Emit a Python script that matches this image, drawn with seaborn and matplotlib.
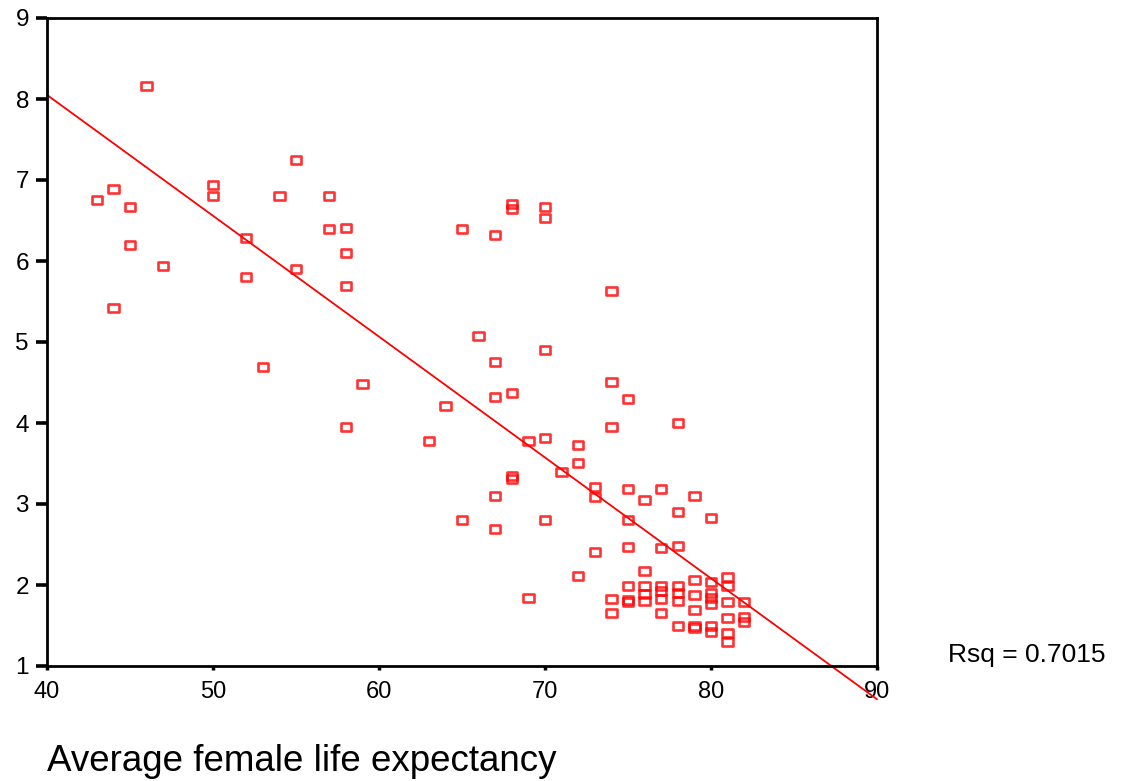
import numpy as np
import pandas as pd
import matplotlib
matplotlib.use("Agg")
import matplotlib.pyplot as plt
from matplotlib.path import Path
import seaborn as sns

life_expectancy = [
    46, 43, 44, 45, 45, 44, 47, 50, 50, 52, 52, 53, 54, 55, 55, 57, 57, 58, 58, 58, 58,
    59, 63, 64, 65, 65, 66, 67, 67, 67, 67, 67, 68, 68, 68, 68, 68, 69, 69,
    70, 70, 70, 70, 70, 71, 72, 72, 72, 73, 73, 73,
    74, 74, 74, 74, 74, 75, 75, 75, 75, 75, 75, 75,
    76, 76, 76, 76, 76, 77, 77, 77, 77, 77, 77,
    78, 78, 78, 78, 78, 78, 78, 79, 79, 79, 79, 79, 79,
    80, 80, 80, 80, 80, 80, 80, 81, 81, 81, 81, 81, 81, 82, 82, 82,
]
fertility = [
    8.16, 6.75, 6.89, 6.67, 6.20, 5.42, 5.94, 6.94, 6.80, 6.28, 5.80, 4.69, 6.80, 7.25, 5.90,
    6.80, 6.40, 6.41, 6.10, 5.69, 3.95,
    4.48, 3.78, 4.21, 6.40, 2.80, 5.07, 6.32, 4.75, 4.32, 3.10, 2.69, 6.70, 6.64, 4.37, 3.35, 3.31,
    3.78, 1.84,
    6.67, 6.53, 4.90, 3.81, 2.80, 3.40, 3.73, 3.51, 2.11, 3.21, 3.09, 2.41,
    5.63, 4.51, 3.95, 1.83, 1.65, 4.30, 3.19, 2.80, 2.47, 1.99, 1.81, 1.79,
    3.05, 2.17, 1.99, 1.89, 1.80, 3.19, 2.46, 1.99, 1.93, 1.83, 1.65,
    4.00, 2.90, 2.48, 1.99, 1.90, 1.80, 1.49, 3.10, 2.06, 1.88, 1.69, 1.49, 1.47,
    2.83, 2.04, 1.90, 1.84, 1.77, 1.49, 1.42, 2.10, 1.99, 1.79, 1.59, 1.41, 1.30,
    1.79, 1.60, 1.54,
]
x_ticks = [40, 50, 60, 70, 80, 90]
y_ticks = [1, 2, 3, 4, 5, 6, 7, 8, 9]
rsq_label = "Rsq = 0.7015"
x_label = "Average female life expectancy"

df = pd.DataFrame({"life": life_expectancy, "fert": fertility})

sns.set_style("white")
plt.rcParams["font.family"] = ["Liberation Sans", "DejaVu Sans"]

fig = plt.figure(figsize=(11.42, 7.81), dpi=100)
ax = fig.add_axes([47 / 1142, 1 - 666 / 781, (877 - 47) / 1142, (666 - 18) / 781])
ax.set_xlim(40, 90)

rect = Path([(-1, -0.75), (1, -0.75), (1, 0.75), (-1, 0.75), (-1, -0.75)],
            [Path.MOVETO, Path.LINETO, Path.LINETO, Path.LINETO, Path.CLOSEPOLY])

sns.regplot(data=df, x="life", y="fert", ax=ax, ci=None, truncate=False,
            color="red",
            marker=rect,
            scatter_kws=dict(s=58, facecolors="none", edgecolors="#ff0000", linewidths=1.9),
            line_kws=dict(color="#ff0000", linewidth=1.3, clip_on=False))

ax.set_xlim(40, 90)
ax.set_ylim(1, 9)
ax.set_xticks(x_ticks)
ax.set_yticks(y_ticks)
ax.set_xlabel("")
ax.set_ylabel("")

for side in ["left", "bottom", "top", "right"]:
    ax.spines[side].set_visible(True)
    ax.spines[side].set_color("black")
    ax.spines[side].set_linewidth(2.0)

ax.tick_params(axis="y", direction="out", length=8, width=2.6, color="black",
               left=True, labelsize=17.5, pad=5, labelcolor="black")
ax.tick_params(axis="x", direction="out", length=3, width=2.5, color="black",
               bottom=True, labelsize=17, pad=8, labelcolor="black")

fig.text(948 / 1142, 1 - 655 / 781, rsq_label, fontsize=19, ha="left", va="center",
         color="black")
fig.text(47 / 1142, 1 - 771 / 781, x_label, fontsize=26.5, ha="left", va="baseline",
         color="black")

fig.savefig("out.png", dpi=100)
